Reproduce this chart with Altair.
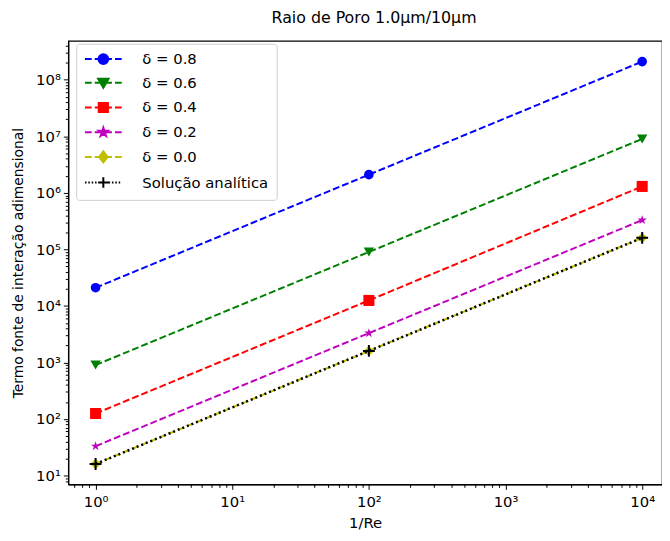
import altair as alt
import pandas as pd

# ---------------- data ----------------
inv_re = [1, 100, 10000]
series_labels = ["δ = 0.8", "δ = 0.6", "δ = 0.4", "δ = 0.2", "δ = 0.0", "Solução analítica"]
delta_08 = [2.1e4, 2.1e6, 2.1e8]
delta_06 = [9.0e2, 9.0e4, 9.0e6]
delta_04 = [1.25e2, 1.25e4, 1.3e6]
delta_02 = [3.3e1, 3.3e3, 3.3e5]
delta_00 = [1.6e1, 1.6e3, 1.6e5]
analytic = [1.6e1, 1.6e3, 1.6e5]
all_series = [delta_08, delta_06, delta_04, delta_02, delta_00, analytic]

colors = ["#0000ff", "#008000", "#ff0000", "#bf00bf", "#bfbf00", "#000000"]

rows = []
for lab, vals in zip(series_labels, all_series):
    for xv, yv in zip(inv_re, vals):
        rows.append({"series": lab, "x": xv, "y": yv})
df = pd.DataFrame(rows)

# ---------------- styles ----------------
FONT = "DejaVu Sans"
PLUS = "M-1,0H1M0,-1V1"

def scaled_star(k):
    pts = [(0, -1), (0.225, -0.309), (0.951, -0.309), (0.363, 0.118), (0.588, 0.809),
           (0, 0.382), (-0.588, 0.809), (-0.363, 0.118), (-0.951, -0.309), (-0.225, -0.309)]
    return "M" + "L".join(f"{x*k:.3f},{y*k:.3f}" for x, y in pts) + "Z"

STAR = scaled_star(1.0)
DASHES = "M-3,0H-1.9M-1.4,0H1.4M1.9,0H3"
dots = "".join(f"M{x:.2f},0H{x+0.25:.2f}" for x in [-3 + 0.55 * i for i in range(11)])
legend_paths = [
    DASHES + "M-0.8,0A0.8,0.8,0,1,0,0.8,0A0.8,0.8,0,1,0,-0.8,0Z",
    DASHES + "M-0.85,-0.65L0.85,-0.65L0,0.8Z",
    DASHES + "M-0.75,-0.75H0.75V0.75H-0.75Z",
    DASHES + scaled_star(0.75),
    DASHES + "M0,-0.9L0.7,0L0,0.9L-0.7,0Z",
    dots + "M-0.85,0H0.85M0,-0.85V0.85",
]

point_shapes = ["circle", "triangle-down", "square", STAR, "diamond", PLUS]
point_sizes = [95, 110, 125, 100, 110, 144]
point_filled = [True, True, True, True, True, False]
dash_styles = [[7, 3]] * 5 + [[2, 3]]
line_widths = [2, 2, 2, 2, 2, 2.5]

x_ticks = [0.7, 0.8, 0.9] + [m * 10 ** e for e in range(0, 4) for m in range(1, 10)] + [10000]
y_ticks = [8, 9] + [m * 10 ** e for e in range(1, 8) for m in range(1, 10)] + [1e8, 2e8, 3e8, 4e8]

is_major = "abs(log(datum.value)/LN10 - round(log(datum.value)/LN10)) < 0.001"
sup = "['⁰','¹','²','³','⁴','⁵','⁶','⁷','⁸','⁹']"
label_expr = f"{is_major} ? '10' + {sup}[round(log(datum.value)/LN10)] : ''"

x_axis = alt.Axis(values=x_ticks, labelExpr=label_expr, title="1/Re", grid=False,
                  tickSize={"condition": {"test": is_major, "value": 5}, "value": 3},
                  labelOverlap=False, labelFlush=False, labelPadding=5, titlePadding=7,
                  labelFont=FONT, labelFontSize=15, titleFont=FONT, titleFontSize=15,
                  titleFontWeight="normal", labelColor="black", titleColor="black",
                  domainColor="black", domainWidth=1.2, tickColor="black", tickWidth=1)
y_axis = alt.Axis(values=y_ticks, labelExpr=label_expr, title="Termo fonte de interação adimensional",
                  grid=False,
                  tickSize={"condition": {"test": is_major, "value": 5}, "value": 3},
                  labelOverlap=False, labelFlush=False, labelPadding=3, titlePadding=10,
                  labelFont=FONT, labelFontSize=15, titleFont=FONT, titleFontSize=14,
                  titleFontWeight="normal", labelColor="black", titleColor="black",
                  domainColor="black", domainWidth=1.2, tickColor="black", tickWidth=1)

X = alt.X("x:Q", scale=alt.Scale(type="log", domain=[10 ** -0.2, 10 ** 4.145], nice=False), axis=x_axis)
Y = alt.Y("y:Q", scale=alt.Scale(type="log", domain=[10 ** 0.843, 10 ** 8.69], nice=False), axis=y_axis)

layers = []
for i, lab in enumerate(series_labels):
    base = alt.Chart(df).transform_filter(alt.datum.series == lab)
    layers.append(base.mark_line(color=colors[i], strokeDash=dash_styles[i],
                                 strokeWidth=line_widths[i]).encode(x=X, y=Y))
    layers.append(base.mark_point(shape=point_shapes[i], size=point_sizes[i], filled=point_filled[i],
                                  color=colors[i], opacity=1, strokeWidth=2).encode(x=X, y=Y))

leg = alt.Legend(title=None, orient="none", legendX=8, legendY=3, padding=8, rowPadding=6,
                 symbolSize=154, symbolStrokeWidth=2, symbolOffset=12, labelOffset=32,
                 labelFont=FONT, labelFontSize=15, labelColor="black",
                 fillColor="white", strokeColor="#cccccc", cornerRadius=3, symbolOpacity=1)

legend_layer = alt.Chart(df).transform_filter("false").mark_point(filled=True, opacity=1).encode(
    x=X, y=Y,
    fill=alt.Fill("series:N", scale=alt.Scale(domain=series_labels, range=colors), legend=leg),
    stroke=alt.Stroke("series:N", scale=alt.Scale(domain=series_labels, range=colors), legend=leg),
    shape=alt.Shape("series:N", scale=alt.Scale(domain=series_labels, range=legend_paths), legend=leg),
)
layers.append(legend_layer)

chart = alt.layer(*layers).properties(
    width=601, height=449,
    title=alt.TitleParams("Raio de Poro 1.0μm/10μm", font=FONT, fontSize=16, fontWeight="normal",
                          color="black", anchor="middle", dx=9, offset=13),
    autosize=alt.AutoSizeParams(type="none"),
    padding={"left": 61, "top": 30, "right": 0, "bottom": 46},
    background="white",
).configure_view(stroke="black", strokeWidth=1.2)

chart.save("out.html", embed_options={"renderer": "svg", "actions": False})
